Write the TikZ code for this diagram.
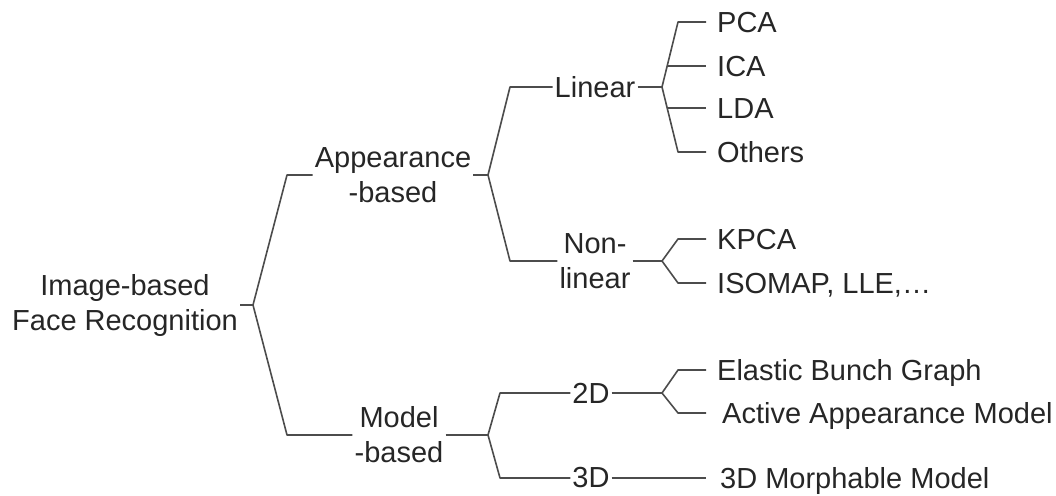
\documentclass[tikz,border=0pt]{standalone}
\usepackage{fontspec}
\setmainfont{Liberation Sans}

\tikzset{
  branch/.style={align=center, inner sep=2pt, text=black!85,
    font=\fontsize{29}{35}\selectfont},
  leaf/.style={anchor=west, inner xsep=11pt, inner ysep=0pt, text=black!85,
    text height=21pt, text depth=0pt, font=\fontsize{29}{35}\selectfont},
  edge/.style={draw=black!70, line width=1.6pt, line join=round}
}

\begin{document}
\begin{tikzpicture}[x=1pt, y=-1pt]
  \useasboundingbox (0,0) rectangle (1056,495);

  % inner nodes
  \node[branch] (face)   at (125,305) {Image-based\\Face Recognition};
  \node[branch] (app)    at (393,175) {Appearance\\-based};
  \node[branch] (model)  at (399,435) {Model\\-based};
  \node[branch] (linear) at (595,87)  {Linear};
  \node[branch] (nonlin) at (595,261) {Non-\\linear};
  \node[branch] (twod)   at (591,393) {2D};
  \node[branch] (threed) at (591,478) {3D};

  % leaves
  \node[leaf] (pca)    at (706,22)  {PCA};
  \node[leaf] (ica)    at (706,66)  {ICA};
  \node[leaf] (lda)    at (706,108) {LDA};
  \node[leaf] (others) at (706,152) {Others};
  \node[leaf] (kpca)   at (706,239) {KPCA};
  \node[leaf] (isomap) at (706,283) {ISOMAP, LLE,\dots};
  \node[leaf] (ebg)    at (706,370) {Elastic Bunch Graph};
  \node[leaf, inner xsep=16pt] (aam) at (706,413) {Active Appearance Model};
  \node[leaf, inner xsep=14pt] (morph) at (706,478) {3D Morphable Model};

  % fork points and corner columns
  \coordinate (f0) at (253,305); \coordinate (c0) at (287,0);
  \coordinate (f1) at (488,175); \coordinate (c1) at (510,0);
  \coordinate (f2) at (662,87);  \coordinate (c2) at (678,0);
  \coordinate (m2) at (668,0);
  \coordinate (f3) at (662,261);
  \coordinate (f4) at (488,435); \coordinate (c4) at (500,0);
  \coordinate (f5) at (662,393);

  % connectors
  \draw[edge] (face.east) -- (f0);
  \foreach \n in {app,model}
    \draw[edge] (f0) -- (c0 |- \n.west) -- (\n.west);
  \draw[edge] (app.east) -- (f1);
  \foreach \n in {linear,nonlin}
    \draw[edge] (f1) -- (c1 |- \n.west) -- (\n.west);
  \draw[edge] (linear.east) -- (f2);
  \foreach \n in {pca,others}
    \draw[edge] (f2) -- (c2 |- \n.west) -- (\n.west);
  \foreach \n in {ica,lda}
    \draw[edge] (m2 |- \n.west) -- (\n.west);
  \draw[edge] (nonlin.east) -- (f3);
  \foreach \n in {kpca,isomap}
    \draw[edge] (f3) -- (c2 |- \n.west) -- (\n.west);
  \draw[edge] (model.east) -- (f4);
  \foreach \n in {twod,threed}
    \draw[edge] (f4) -- (c4 |- \n.west) -- (\n.west);
  \draw[edge] (twod.east) -- (f5);
  \foreach \n in {ebg,aam}
    \draw[edge] (f5) -- (c2 |- \n.west) -- (\n.west);
  \draw[edge] (threed.east) -- (morph.west);
\end{tikzpicture}
\end{document}
